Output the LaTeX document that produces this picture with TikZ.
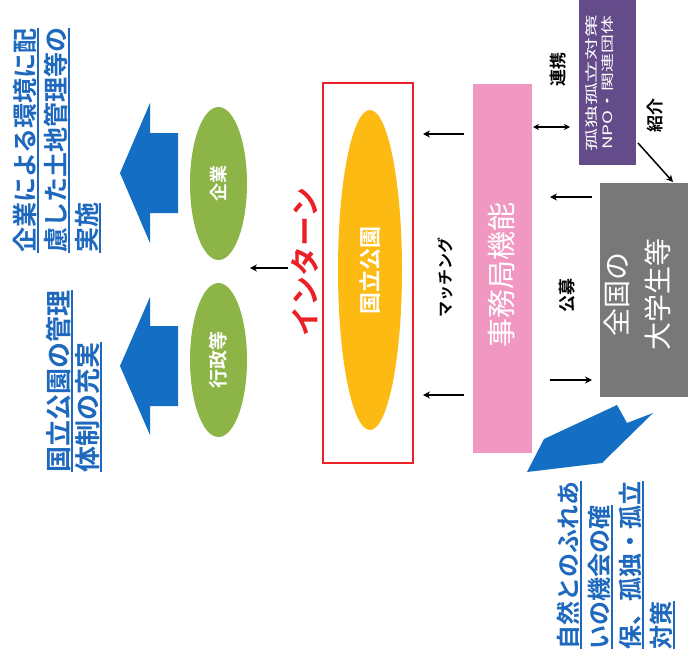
\documentclass[tikz,border=0pt]{standalone}
\usepackage{graphicx}
\usepackage{fontspec}
\setmainfont[BoldFont={Noto Sans CJK JP Bold}]{Noto Sans CJK JP}
\usetikzlibrary{shapes.geometric,arrows.meta,calc}
\definecolor{bluetxt}{RGB}{30,105,190}
\definecolor{bluearr}{RGB}{20,110,195}
\definecolor{leaf}{RGB}{141,180,70}
\definecolor{gold}{RGB}{253,186,18}
\definecolor{redline}{RGB}{236,32,39}
\definecolor{pinkbox}{RGB}{241,152,194}
\definecolor{purplebox}{RGB}{100,76,138}
\definecolor{graybox}{RGB}{120,120,120}
\newsavebox\ulbox
\newcommand\ulx[1]{\sbox\ulbox{#1}\rlap{\rule[-4pt]{\wd\ulbox}{1.4pt}}\usebox\ulbox}
\begin{document}
\begin{tikzpicture}[x=1pt,y=-1pt,
  arr/.style={-{Stealth[length=7pt,width=7pt]}, line width=1.8pt, black},
  darr/.style={{Stealth[length=6pt,width=6pt]}-{Stealth[length=6pt,width=6pt]}, line width=1.4pt, black},
  bigarrow/.style={fill=bluearr, draw=none},
  bluetext/.style={rotate=90, align=left, inner sep=0pt, text=bluetxt},
  shapebox/.style={draw=none, inner sep=0pt, outer sep=0pt},
  lbl/.style={rotate=90, inner sep=0pt, font=\fontsize{17}{20}\selectfont\bfseries},
  whitetxt/.style={rotate=90, inner sep=0pt, text=white, align=center},
]
\useasboundingbox (0,0) rectangle (688,670);
\fill[white] (0,0) rectangle (688,670);

% result texts
\node[bluetext, font=\fontsize{25}{31}\selectfont\bfseries] (res1) at (57,140)
  {\ulx{企業による環境に配}\\\ulx{慮した土地管理等の}\\\ulx{実施}};
\node[bluetext, font=\fontsize{26}{29}\selectfont\bfseries] (res2) at (74,381)
  {\ulx{国立公園の管理}\\\ulx{体制の充実}};
\node[bluetext, font=\fontsize{24}{31}\selectfont\bfseries] (res3) at (616,565)
  {\ulx{自然とのふれあ}\\\ulx{いの機会の確}\\\ulx{保、孤独・孤立}\\\ulx{対策}};

% big blue arrows
\fill[bigarrow] (120,173) -- (150,103) -- (150,133) -- (178,133) -- (178,213) -- (150,213) -- (150,243) -- cycle;
\fill[bigarrow] (120,366) -- (150,297) -- (150,326) -- (178,326) -- (178,406) -- (150,406) -- (150,435) -- cycle;
\fill[bigarrow] (527,472) -- (544,439) -- (617,405) -- (627,423) -- (653,413) -- (602,463) -- cycle;

% green ellipses
\node[ellipse, fill=leaf, shapebox, minimum width=57pt, minimum height=153pt,
  text=white, font=\fontsize{18}{18}\selectfont\bfseries] (kigyo) at (218.5,183.5) {\rotatebox{90}{企業}};
\node[ellipse, fill=leaf, shapebox, minimum width=57pt, minimum height=154pt,
  text=white, font=\fontsize{19}{19}\selectfont\bfseries] (gyosei) at (218.5,360) {\rotatebox{90}{行政等}};

% intern
\node[rotate=90, inner sep=0pt, text=redline, font=\fontsize{30}{30}\selectfont\bfseries] (interntxt) at (305,262) {インターン};
\node[shapebox, draw=redline, line width=2.5pt, minimum width=90pt, minimum height=380pt] (intern) at (368,273) {};
\node[ellipse, fill=gold, shapebox, minimum width=64pt, minimum height=320pt,
  text=white, font=\fontsize{22}{22}\selectfont\bfseries] (park) at (370,270) {\rotatebox{90}{国立公園}};

% secretariat
\node[shapebox, fill=pinkbox, minimum width=59pt, minimum height=369pt] (pink) at (502.5,268.5) {};
\node[whitetxt, font=\fontsize{29}{29}\selectfont] (pinktxt) at (502,275) {事務局機能};

% purple
\node[shapebox, fill=purplebox, minimum width=57pt, minimum height=165pt] (purple) at (607.5,82.5) {};
\node[whitetxt, font=\fontsize{13}{16}\selectfont] (purpletxt) at (600,83)
  {\scalebox{1.75}[1]{孤独孤立対策}\\\scalebox{1.45}[1]{NPO・関連団体}};

% gray
\node[shapebox, fill=graybox, minimum width=88pt, minimum height=214pt] (gray) at (644,290) {};
\node[whitetxt, font=\fontsize{28}{41}\selectfont] (graytxt) at (637.5,294) {全国の\\大学生等};

% labels
\node[lbl, font=\fontsize{16}{16}\selectfont\bfseries] (match) at (445,277) {マッチング};
\node[lbl] (renkei) at (558,69) {連携};
\node[lbl] (shokai) at (655,115) {紹介};
\node[lbl] (kobo) at (567,295) {公募};

% connectors
\coordinate (ya) at (0,134);
\coordinate (yb) at (0,395);
\coordinate (yc) at (0,127);
\coordinate (yd) at (0,197);
\coordinate (ye) at (0,380);
\draw[arr] ($(pink.west |- ya)+(-9,0)$) -- ($(intern.east |- ya)+(10,0)$);
\draw[arr] ($(pink.west |- yb)+(-9,0)$) -- ($(intern.east |- yb)+(10,0)$);
\draw[darr] ($(pink.east |- yc)+(1,0)$) -- ($(purple.west |- yc)+(-9,0)$);
\draw[arr] ($(gray.west |- yd)+(-8,0)$) -- ($(pink.east |- yd)+(18,0)$);
\draw[arr] ($(pink.east |- ye)+(18,0)$) -- ($(gray.west |- ye)+(-8,0)$);
\draw[arr, line width=1.5pt] ($(purple.south east)+(2,-22)$) -- ($(gray.north east)+(-15,-1)$);
\coordinate (gapstart) at (288,268);
\coordinate (gapend) at ($(kigyo.east |- gapstart)+(3,0)$);
\draw[arr, line width=1.6pt] (gapstart) -- (gapend);
\end{tikzpicture}
\end{document}
